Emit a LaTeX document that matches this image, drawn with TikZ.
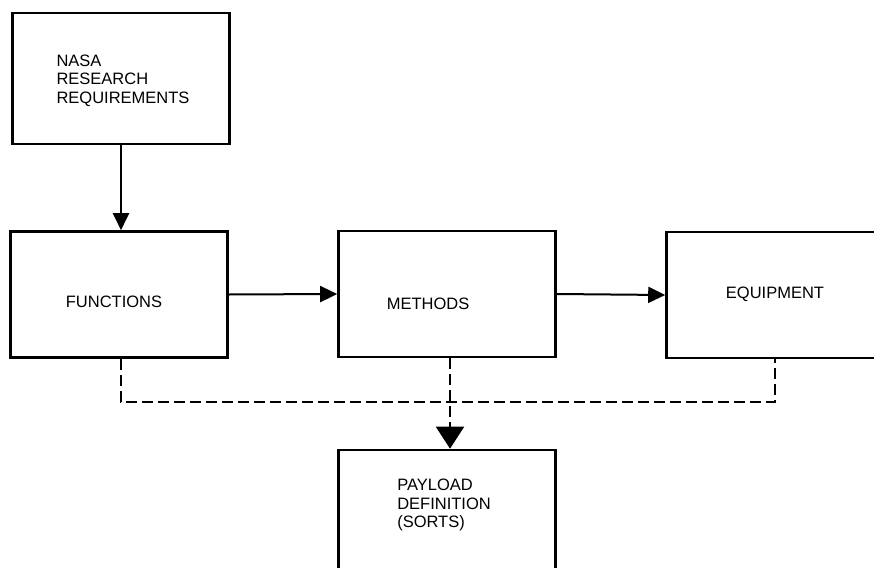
\documentclass[tikz,border=0pt]{standalone}
\usepackage{fontspec}
\setmainfont{Liberation Sans}
\usetikzlibrary{arrows.meta,positioning}
\tikzset{
  flowbox/.style={rectangle,draw=black,line width=2.6pt,fill=white,
                  minimum width=217pt,minimum height=126pt,inner sep=0pt},
  flowtext/.style={font=\fontsize{16.5}{18.5}\selectfont,align=left,
                   text=black},
  flowarrow/.style={-{Triangle[length=17pt,width=16pt]},line width=2pt},
  flowdash/.style={line width=2pt,dash pattern=on 11pt off 5pt}
}
\begin{document}
\begin{tikzpicture}[x=1pt,y=-1pt]
    \fill[white] (0,0) rectangle (874,567);
    \clip (0,0) rectangle (874,567);
    \node[flowbox,minimum height=131pt,
      label={[flowtext,xshift=2pt,yshift=-2pt]center:NASA\\RESEARCH\\REQUIREMENTS}]
      (nasa) at (121,78.5) {};
    \node[flowbox,label={[flowtext,xshift=-5pt,yshift=-7pt]center:FUNCTIONS}]
      (functions) at (119,294.5) {};
    \node[flowbox,label={[flowtext,xshift=-19pt,yshift=-10pt]center:METHODS}]
      (methods) at (447,294) {};
    \node[flowbox,label={[flowtext,yshift=1pt]center:EQUIPMENT}]
      (equipment) at (775,295) {};
    \node[flowbox,label={[flowtext,xshift=-3pt,yshift=8pt]center:PAYLOAD\\DEFINITION\\(SORTS)}]
      (payload) at (447,513) {};

    \draw[flowarrow] (nasa.south) -- (nasa.south |- functions.north);
    \draw[flowarrow] (functions.east) -- (methods.west);
    \draw[flowarrow] (methods.east) -- (equipment.west);

    \coordinate (busleft) at ([xshift=2pt]functions.south);
    \draw[flowdash] (busleft) -- ++(0,43) -| (equipment.south);
    \draw[flowdash,-{Triangle[length=22pt,width=28pt]}]
      ([xshift=3pt]methods.south) -- ([xshift=3pt]methods.south |- payload.north);
\end{tikzpicture}
\end{document}
